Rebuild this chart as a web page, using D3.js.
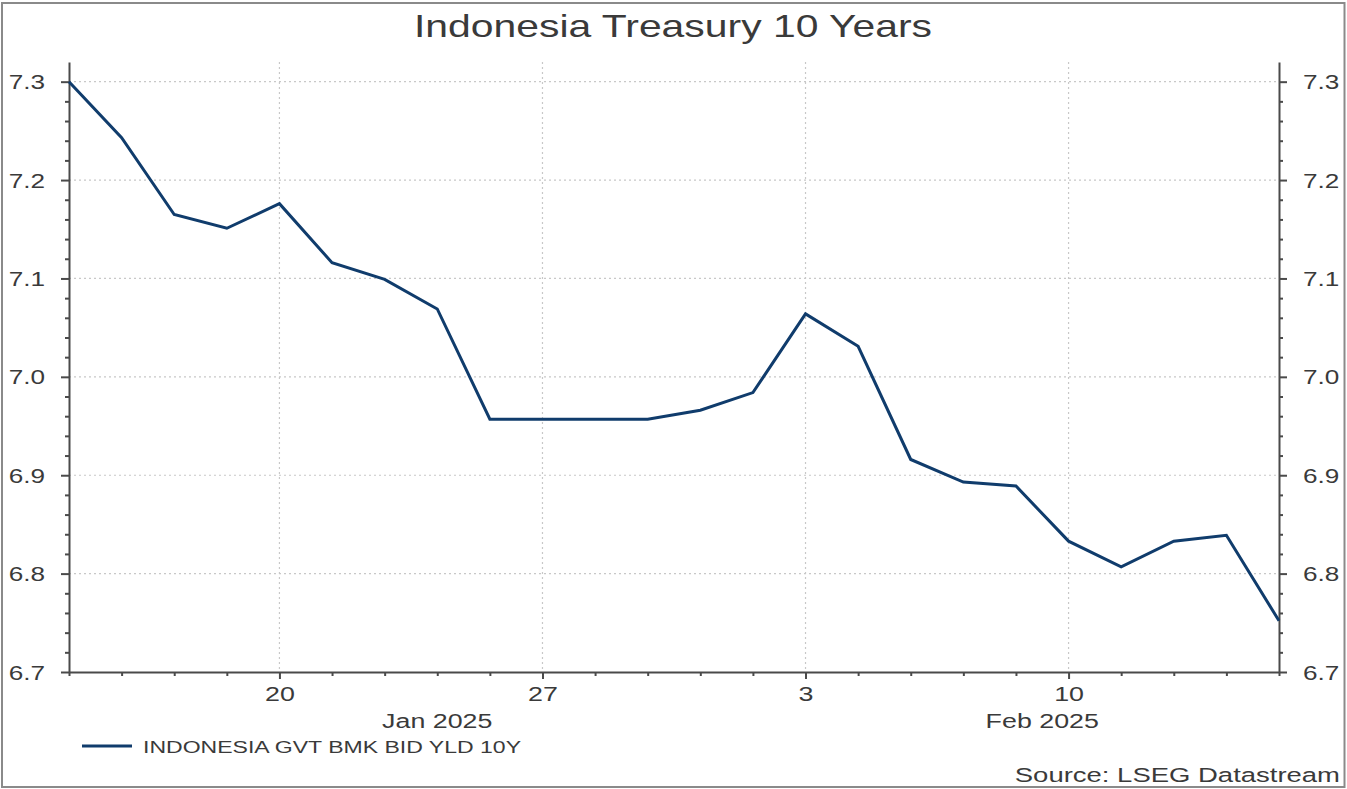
<!DOCTYPE html>
<html>
<head>
<meta charset="utf-8">
<script src="https://cdn.jsdelivr.net/npm/d3@7"></script>
<style>
  html, body { margin: 0; padding: 0; background: #fff; }
  svg { display: block; }
  text { font-family: "Liberation Sans", Arial, sans-serif; fill: #3a3a3a; }
</style>
</head>
<body>
<svg id="chart" width="1347" height="789"></svg>
<script>
// ---- data ----
const dates = ["2025-01-14","2025-01-15","2025-01-16","2025-01-17","2025-01-20","2025-01-21","2025-01-22","2025-01-23","2025-01-24",
               "2025-01-27","2025-01-28","2025-01-29","2025-01-30","2025-01-31","2025-02-03","2025-02-04","2025-02-05","2025-02-06",
               "2025-02-07","2025-02-10","2025-02-11","2025-02-12","2025-02-13","2025-02-14"];
const yields = [7.300, 7.243, 7.165, 7.151, 7.176, 7.116, 7.099, 7.069, 6.957,
                6.957, 6.957, 6.957, 6.966, 6.984, 7.064, 7.031, 6.916, 6.893,
                6.889, 6.833, 6.807, 6.833, 6.839, 6.752];
const yTickLabels = [6.7, 6.8, 6.9, 7.0, 7.1, 7.2, 7.3];
const monthLabels = ["Jan 2025", "Feb 2025"];
const chartTitle = "Indonesia Treasury 10 Years";
const seriesName = "INDONESIA GVT BMK BID YLD 10Y";
const sourceText = "Source: LSEG Datastream";

(function () {
// ---- layout ----
const W = 1347, H = 789;
const pL = 69, pR = 1279, pT = 62, pB = 672;
const STRETCH = 1.34;
const svg = d3.select("#chart");

const parse = d3.timeParse("%Y-%m-%d");
const dts = dates.map(parse);
const x = d3.scaleLinear().domain([0, dates.length - 1]).range([pL, pR]);
const y = d3.scaleLinear().domain([6.7, 7.32]).range([pB, pT]);

function stretch(sel) {
  sel.each(function() {
    const len = this.getComputedTextLength();
    if (len > 0) d3.select(this).attr("textLength", len * STRETCH).attr("lengthAdjust", "spacingAndGlyphs");
  });
}

// outer frame
svg.append("rect").attr("x", 2).attr("y", 3).attr("width", W - 4.5).attr("height", H - 5)
  .attr("fill", "none").attr("stroke", "#8a8a8a").attr("stroke-width", 2);

// grid
const isMonday = dts.map(d => d.getDay() === 1);
const mondayIdx = d3.range(dates.length).filter(i => isMonday[i]);
svg.append("g").selectAll("line").data(yTickLabels.slice(1)).join("line")
  .attr("x1", pL).attr("x2", pR).attr("y1", d => y(d)).attr("y2", d => y(d))
  .attr("stroke", "#c8c8c8").attr("stroke-width", 1.2).attr("stroke-dasharray", "2,3");
svg.append("g").selectAll("line").data(mondayIdx).join("line")
  .attr("x1", d => x(d)).attr("x2", d => x(d)).attr("y1", pT).attr("y2", pB)
  .attr("stroke", "#c8c8c8").attr("stroke-width", 1.2).attr("stroke-dasharray", "2,3");

// y axes
const yTicks = d3.range(0, 31).map(i => +(6.7 + i * 0.02).toFixed(2));
const isMajorY = v => Math.abs(v * 10 - Math.round(v * 10)) < 1e-6;
function styleYAxis(g, dir) {
  g.select(".domain").attr("stroke", "#4a4a4a").attr("stroke-width", 2);
  g.selectAll(".tick line").attr("stroke", "#4a4a4a").attr("stroke-width", 2)
    .attr("x2", d => dir * (isMajorY(d) ? 8 : 4));
  g.selectAll(".tick text").style("font-size", "19.5px").attr("fill", "#3a3a3a")
    .attr("x", dir * 24).attr("dy", "0.36em");
}
const yFmt = d => isMajorY(d) ? d3.format(".1f")(d) : "";
const gyl = svg.append("g").attr("transform", `translate(${pL},0)`)
  .call(d3.axisLeft(y).tickValues(yTicks).tickFormat(yFmt).tickSizeOuter(0));
styleYAxis(gyl, -1);
const gyr = svg.append("g").attr("transform", `translate(${pR},0)`)
  .call(d3.axisRight(y).tickValues(yTicks).tickFormat(yFmt).tickSizeOuter(0));
styleYAxis(gyr, 1);
gyl.selectAll(".tick text").call(stretch);
gyr.selectAll(".tick text").call(stretch);

// x axis
const gx = svg.append("g").attr("transform", `translate(0,${pB})`)
  .call(d3.axisBottom(x).tickValues(d3.range(dates.length))
    .tickFormat(i => isMonday[i] ? d3.timeFormat("%-d")(dts[i]) : "").tickSizeOuter(0));
gx.select(".domain").attr("stroke", "#4a4a4a").attr("stroke-width", 2);
gx.selectAll(".tick line").attr("stroke", "#4a4a4a").attr("stroke-width", 2)
  .attr("y2", i => isMonday[i] ? 7 : 4);
gx.selectAll(".tick text").style("font-size", "20px").attr("fill", "#3a3a3a").attr("y", 15).attr("dy", "0.71em")
  .call(stretch);

// month labels, centred between month start and next month start (or last point)
const monthStarts = [];
dts.forEach((d, i) => { if (i === 0 || d.getMonth() !== dts[i - 1].getMonth()) monthStarts.push(i); });
monthStarts.forEach((s, k) => {
  const e = k + 1 < monthStarts.length ? monthStarts[k + 1] : dates.length - 1;
  svg.append("text").attr("x", x((s + e) / 2)).attr("y", 728).attr("text-anchor", "middle")
    .style("font-size", "20px").text(monthLabels[k]).call(stretch);
});

// line
const line = d3.line().x((d, i) => x(i)).y(d => y(d));
svg.append("path").datum(yields).attr("d", line).attr("fill", "none")
  .attr("stroke", "#103c6c").attr("stroke-width", 3).attr("stroke-linejoin", "miter");

// title
svg.append("text").attr("x", 673).attr("y", 37).attr("text-anchor", "middle")
  .style("font-size", "30.5px").attr("fill", "#333").text(chartTitle).call(stretch);

// legend
svg.append("line").attr("x1", 82).attr("x2", 132).attr("y1", 746).attr("y2", 746)
  .attr("stroke", "#103c6c").attr("stroke-width", 3);
svg.append("text").attr("x", 143).attr("y", 752.5).style("font-size", "17.2px").attr("fill", "#404040")
  .text(seriesName).call(stretch);

// source
svg.append("text").attr("x", 1340).attr("y", 782).attr("text-anchor", "end")
  .style("font-size", "20.5px").attr("fill", "#404040").text(sourceText).call(stretch);
})();
</script>
</body>
</html>
